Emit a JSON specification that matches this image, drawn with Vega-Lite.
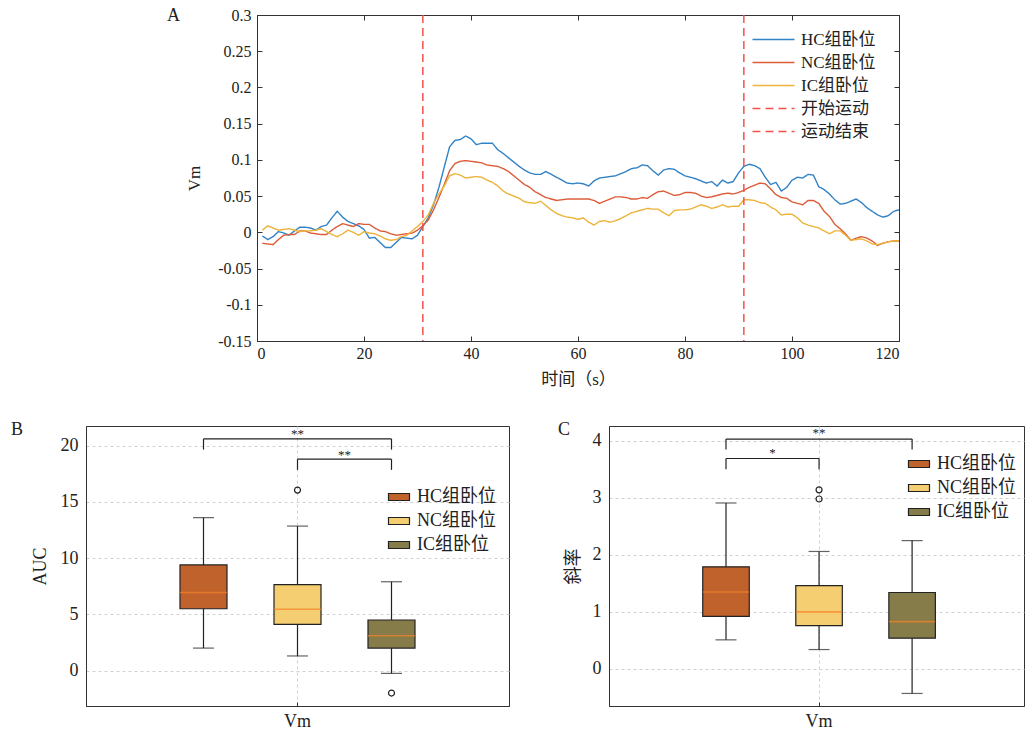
{
  "$schema": "https://vega.github.io/schema/vega-lite/v6.json",
  "padding": {"left": 10, "top": 6, "right": 0, "bottom": 0},
  "config": {
    "font": "Liberation Serif, Noto Sans CJK SC",
    "view": {"stroke": "#333", "strokeWidth": 1},
    "axis": {"labelColor": "#222", "titleColor": "#222", "titleFontWeight": "normal", "domainColor": "#333", "tickColor": "#333", "labelFontSize": 16, "titleFontSize": 18, "labelFont": "Liberation Serif, Noto Sans CJK SC", "titleFont": "Liberation Serif, Noto Sans CJK SC"},
    "legend": {"labelColor": "#222", "labelFontSize": 17, "padding": 0, "labelFont": "Liberation Serif, Noto Sans CJK SC"},
    "title": {"color": "#222", "fontWeight": "normal", "fontSize": 18, "font": "Liberation Serif"}
  },
  "spacing": 32,
  "resolve": {"scale": {"color": "independent", "x": "independent", "y": "independent", "strokeDash": "independent"}, "legend": {"color": "independent", "strokeDash": "independent"}},
  "vconcat": [
    {
      "spacing": 0,
      "resolve": {"scale": {"color": "independent", "strokeDash": "independent"}, "legend": {"color": "independent", "strokeDash": "independent"}},
      "hconcat": [
        {"width": 80, "height": 326, "data": {"values": []}, "mark": "point", "view": {"stroke": null}},
        {
          "width": 642, "height": 326,
          "title": {"text": "A", "anchor": "start", "frame": "group", "dx": -90, "dy": 32, "offset": 0, "baseline": "alphabetic"},
          "data": {"values": [
            {"t":1,"HC":-0.005,"NC":-0.015,"IC":0.003},{"t":2,"HC":-0.010,"NC":-0.016,"IC":0.009},{"t":3,"HC":-0.006,"NC":-0.017,"IC":0.006},{"t":4,"HC":0.001,"NC":-0.010,"IC":0.003},{"t":5,"HC":-0.001,"NC":-0.004,"IC":0.004},
            {"t":6,"HC":-0.004,"NC":-0.003,"IC":0.005},{"t":7,"HC":0.002,"NC":-0.003,"IC":0.003},{"t":8,"HC":0.007,"NC":0.002,"IC":0.001},{"t":9,"HC":0.007,"NC":0.002,"IC":0.002},{"t":10,"HC":0.006,"NC":-0.001,"IC":0.002},
            {"t":11,"HC":0.003,"NC":-0.002,"IC":0.003},{"t":12,"HC":0.008,"NC":-0.003,"IC":0.005},{"t":13,"HC":0.010,"NC":-0.003,"IC":0.001},{"t":14,"HC":0.020,"NC":0.003,"IC":-0.003},{"t":15,"HC":0.029,"NC":0.008,"IC":-0.006},
            {"t":16,"HC":0.021,"NC":0.012,"IC":-0.002},{"t":17,"HC":0.015,"NC":0.010,"IC":0.003},{"t":18,"HC":0.012,"NC":0.008,"IC":0.000},{"t":19,"HC":0.009,"NC":0.012,"IC":-0.004},{"t":20,"HC":0.004,"NC":0.011,"IC":0.001},
            {"t":21,"HC":-0.008,"NC":0.011,"IC":-0.001},{"t":22,"HC":-0.007,"NC":0.006,"IC":-0.002},{"t":23,"HC":-0.014,"NC":0.002,"IC":-0.005},{"t":24,"HC":-0.021,"NC":0.001,"IC":-0.009},{"t":25,"HC":-0.021,"NC":-0.002,"IC":-0.011},
            {"t":26,"HC":-0.014,"NC":-0.004,"IC":-0.010},{"t":27,"HC":-0.007,"NC":-0.003,"IC":-0.006},{"t":28,"HC":-0.008,"NC":-0.002,"IC":-0.004},{"t":29,"HC":-0.009,"NC":-0.001,"IC":0.002},{"t":30,"HC":-0.004,"NC":0.003,"IC":0.008},
            {"t":31,"HC":0.008,"NC":0.009,"IC":0.015},{"t":32,"HC":0.020,"NC":0.017,"IC":0.024},{"t":33,"HC":0.038,"NC":0.031,"IC":0.040},{"t":34,"HC":0.062,"NC":0.048,"IC":0.053},{"t":35,"HC":0.090,"NC":0.066,"IC":0.064},
            {"t":36,"HC":0.118,"NC":0.085,"IC":0.078},{"t":37,"HC":0.127,"NC":0.095,"IC":0.081},{"t":38,"HC":0.128,"NC":0.098,"IC":0.079},{"t":39,"HC":0.133,"NC":0.099,"IC":0.075},{"t":40,"HC":0.129,"NC":0.098,"IC":0.076},
            {"t":41,"HC":0.121,"NC":0.097,"IC":0.077},{"t":42,"HC":0.123,"NC":0.096,"IC":0.076},{"t":43,"HC":0.123,"NC":0.093,"IC":0.072},{"t":44,"HC":0.123,"NC":0.092,"IC":0.069},{"t":45,"HC":0.114,"NC":0.091,"IC":0.064},
            {"t":46,"HC":0.109,"NC":0.088,"IC":0.057},{"t":47,"HC":0.103,"NC":0.084,"IC":0.053},{"t":48,"HC":0.097,"NC":0.078,"IC":0.050},{"t":49,"HC":0.091,"NC":0.072,"IC":0.047},{"t":50,"HC":0.086,"NC":0.066,"IC":0.042},
            {"t":51,"HC":0.082,"NC":0.062,"IC":0.041},{"t":52,"HC":0.080,"NC":0.056,"IC":0.040},{"t":53,"HC":0.080,"NC":0.052,"IC":0.043},{"t":54,"HC":0.084,"NC":0.048,"IC":0.037},{"t":55,"HC":0.080,"NC":0.046,"IC":0.031},
            {"t":56,"HC":0.076,"NC":0.044,"IC":0.026},{"t":57,"HC":0.072,"NC":0.045,"IC":0.023},{"t":58,"HC":0.068,"NC":0.046,"IC":0.021},{"t":59,"HC":0.067,"NC":0.046,"IC":0.020},{"t":60,"HC":0.068,"NC":0.046,"IC":0.018},
            {"t":61,"HC":0.067,"NC":0.046,"IC":0.020},{"t":62,"HC":0.064,"NC":0.046,"IC":0.014},{"t":63,"HC":0.071,"NC":0.044,"IC":0.010},{"t":64,"HC":0.075,"NC":0.040,"IC":0.015},{"t":65,"HC":0.076,"NC":0.043,"IC":0.016},
            {"t":66,"HC":0.077,"NC":0.046,"IC":0.014},{"t":67,"HC":0.078,"NC":0.049,"IC":0.016},{"t":68,"HC":0.081,"NC":0.049,"IC":0.019},{"t":69,"HC":0.084,"NC":0.048,"IC":0.023},{"t":70,"HC":0.088,"NC":0.046,"IC":0.027},
            {"t":71,"HC":0.089,"NC":0.046,"IC":0.029},{"t":72,"HC":0.093,"NC":0.048,"IC":0.031},{"t":73,"HC":0.092,"NC":0.047,"IC":0.033},{"t":74,"HC":0.085,"NC":0.052,"IC":0.032},{"t":75,"HC":0.079,"NC":0.056,"IC":0.032},
            {"t":76,"HC":0.086,"NC":0.057,"IC":0.027},{"t":77,"HC":0.088,"NC":0.054,"IC":0.023},{"t":78,"HC":0.087,"NC":0.051,"IC":0.030},{"t":79,"HC":0.082,"NC":0.052,"IC":0.031},{"t":80,"HC":0.078,"NC":0.055,"IC":0.031},
            {"t":81,"HC":0.076,"NC":0.055,"IC":0.032},{"t":82,"HC":0.074,"NC":0.054,"IC":0.035},{"t":83,"HC":0.071,"NC":0.050,"IC":0.038},{"t":84,"HC":0.068,"NC":0.048,"IC":0.036},{"t":85,"HC":0.070,"NC":0.049,"IC":0.033},
            {"t":86,"HC":0.064,"NC":0.051,"IC":0.035},{"t":87,"HC":0.072,"NC":0.053,"IC":0.038},{"t":88,"HC":0.068,"NC":0.054,"IC":0.035},{"t":89,"HC":0.070,"NC":0.053,"IC":0.036},{"t":90,"HC":0.082,"NC":0.055,"IC":0.036},
            {"t":91,"HC":0.091,"NC":0.058,"IC":0.045},{"t":92,"HC":0.094,"NC":0.062,"IC":0.045},{"t":93,"HC":0.092,"NC":0.065,"IC":0.044},{"t":94,"HC":0.088,"NC":0.068,"IC":0.041},{"t":95,"HC":0.076,"NC":0.067,"IC":0.040},
            {"t":96,"HC":0.066,"NC":0.060,"IC":0.035},{"t":97,"HC":0.069,"NC":0.052,"IC":0.031},{"t":98,"HC":0.057,"NC":0.048,"IC":0.024},{"t":99,"HC":0.062,"NC":0.047,"IC":0.025},{"t":100,"HC":0.072,"NC":0.042,"IC":0.025},
            {"t":101,"HC":0.076,"NC":0.040,"IC":0.020},{"t":102,"HC":0.075,"NC":0.038,"IC":0.013},{"t":103,"HC":0.080,"NC":0.044,"IC":0.010},{"t":104,"HC":0.079,"NC":0.044,"IC":0.008},{"t":105,"HC":0.063,"NC":0.040,"IC":0.006},
            {"t":106,"HC":0.059,"NC":0.029,"IC":0.002},{"t":107,"HC":0.053,"NC":0.022,"IC":-0.002},{"t":108,"HC":0.045,"NC":0.011,"IC":0.002},{"t":109,"HC":0.039,"NC":0.005,"IC":0.002},{"t":110,"HC":0.040,"NC":-0.002,"IC":-0.004},
            {"t":111,"HC":0.043,"NC":-0.011,"IC":-0.011},{"t":112,"HC":0.046,"NC":-0.008,"IC":-0.010},{"t":113,"HC":0.041,"NC":-0.006,"IC":-0.009},{"t":114,"HC":0.034,"NC":-0.008,"IC":-0.012},{"t":115,"HC":0.029,"NC":-0.012,"IC":-0.016},
            {"t":116,"HC":0.024,"NC":-0.018,"IC":-0.017},{"t":117,"HC":0.021,"NC":-0.015,"IC":-0.015},{"t":118,"HC":0.023,"NC":-0.013,"IC":-0.013},{"t":119,"HC":0.029,"NC":-0.012,"IC":-0.012},{"t":120,"HC":0.031,"NC":-0.012,"IC":-0.012}
          ]},
          "transform": [{"fold": ["HC", "NC", "IC"], "as": ["series", "v"]}],
          "layer": [
            {
              "mark": {"type": "line", "strokeWidth": 1.4},
              "encoding": {
                "x": {"field": "t", "type": "quantitative", "scale": {"domain": [0, 120], "nice": false},
                      "axis": {"orient": "bottom", "values": [0, 20, 40, 60, 80, 100, 120], "title": "时间（s）", "tickSize": -5, "labelPadding": 9, "titlePadding": 10, "titleFontSize": 17, "grid": false}},
                "y": {"field": "v", "type": "quantitative", "scale": {"domain": [-0.15, 0.3], "nice": false, "zero": false},
                      "axis": {"orient": "left", "values": [-0.15, -0.1, -0.05, 0, 0.05, 0.1, 0.15, 0.2, 0.25, 0.3], "labelExpr": "'' + datum.value", "title": "Vm", "tickSize": -5, "labelPadding": 11, "titlePadding": 14, "titleFontSize": 17, "grid": false}},
                "color": {"field": "series", "type": "nominal",
                          "scale": {"domain": ["HC", "NC", "IC", "开始运动", "运动结束"], "range": ["#3282C6", "#DC5C38", "#EDB33A", "#F5504A", "#F5504A"]},
                          "legend": {"title": null, "orient": "none", "legendX": 505, "legendY": 13, "symbolType": "M-2,0L2,0", "symbolSize": 441, "symbolStrokeWidth": 1.5, "labelOffset": 16, "rowPadding": 3,
                                     "labelExpr": "datum.label === 'HC' ? 'HC组卧位' : datum.label === 'NC' ? 'NC组卧位' : datum.label === 'IC' ? 'IC组卧位' : datum.label"}},
                "strokeDash": {"field": "series", "type": "nominal",
                               "scale": {"domain": ["HC", "NC", "IC", "开始运动", "运动结束"], "range": [[1, 0], [1, 0], [1, 0], [8, 5], [8, 5]]},
                               "legend": {"title": null, "orient": "none", "legendX": 505, "legendY": 13, "symbolType": "M-2,0L2,0", "symbolSize": 441, "symbolStrokeWidth": 1.5, "labelOffset": 16, "rowPadding": 3,
                                          "labelExpr": "datum.label === 'HC' ? 'HC组卧位' : datum.label === 'NC' ? 'NC组卧位' : datum.label === 'IC' ? 'IC组卧位' : datum.label"}}
              }
            },
            {
              "data": {"values": [{"t": 31, "series": "开始运动"}, {"t": 91, "series": "运动结束"}]},
              "mark": {"type": "rule", "strokeWidth": 1.5},
              "encoding": {
                "x": {"field": "t", "type": "quantitative", "axis": {"orient": "top", "labels": false, "title": null, "tickSize": -5, "values": [0, 20, 40, 60, 80, 100, 120], "grid": false}},
                "color": {"field": "series", "type": "nominal"},
                "strokeDash": {"field": "series", "type": "nominal"}
              }
            },
            {
              "mark": {"type": "line", "opacity": 0},
              "encoding": {
                "x": {"field": "t", "type": "quantitative", "axis": null},
                "y": {"field": "v", "type": "quantitative", "axis": {"orient": "right", "labels": false, "title": null, "tickSize": -5, "values": [-0.15, -0.1, -0.05, 0, 0.05, 0.1, 0.15, 0.2, 0.25, 0.3], "grid": false}}
              }
            }
          ]
        }
      ]
    },
    {
      "spacing": 47,
      "resolve": {"scale": {"color": "independent", "x": "independent", "y": "independent"}, "legend": {"color": "independent"}},
      "hconcat": [
        {
          "width": 423, "height": 280,
          "title": {"text": "B", "anchor": "start", "frame": "group", "dx": -75, "dy": 27, "offset": 0, "baseline": "alphabetic"},
          "data": {"values": [
            {"group": "HC组卧位", "lower": 2.0, "q1": 5.5, "median": 6.95, "q3": 9.4, "upper": 13.6},
            {"group": "NC组卧位", "lower": 1.3, "q1": 4.1, "median": 5.45, "q3": 7.65, "upper": 12.85},
            {"group": "IC组卧位", "lower": -0.25, "q1": 2.0, "median": 3.1, "q3": 4.5, "upper": 7.9}
          ]},
          "layer": [
            {
              "mark": {"type": "rule", "color": "#222", "strokeWidth": 1.2},
              "encoding": {
                "x": {"field": "group", "type": "nominal", "scale": {"domain": ["HC组卧位", "NC组卧位", "IC组卧位"], "paddingInner": 0.5, "paddingOuter": 1},
                      "axis": {"values": ["NC组卧位"], "labelExpr": "'Vm'", "title": null, "tickSize": -4, "labelPadding": 10, "labelFontSize": 18, "labelAngle": 0, "grid": true, "gridDash": [3, 3], "gridColor": "#d0d0d0", "bandPosition": 0.5}},
                "y": {"field": "lower", "type": "quantitative", "scale": {"domain": [-3.15, 21.75], "nice": false, "zero": false},
                      "axis": {"values": [0, 5, 10, 15, 20], "title": "AUC", "ticks": false, "labelPadding": 8, "labelFontSize": 18, "titleFontSize": 18, "titlePadding": 11, "grid": true, "gridDash": [3, 3], "gridColor": "#d0d0d0"}},
                "y2": {"field": "upper"}
              }
            },
            {"mark": {"type": "tick", "color": "#222", "size": 21, "thickness": 1.2}, "encoding": {"x": {"field": "group", "type": "nominal"}, "y": {"field": "lower", "type": "quantitative"}}},
            {"mark": {"type": "tick", "color": "#222", "size": 21, "thickness": 1.2}, "encoding": {"x": {"field": "group", "type": "nominal"}, "y": {"field": "upper", "type": "quantitative"}}},
            {
              "mark": {"type": "bar", "stroke": "#222", "strokeWidth": 1.2},
              "encoding": {
                "x": {"field": "group", "type": "nominal"},
                "y": {"field": "q1", "type": "quantitative"},
                "y2": {"field": "q3"},
                "color": {"field": "group", "type": "nominal", "scale": {"domain": ["HC组卧位", "NC组卧位", "IC组卧位"], "range": ["#C0622C", "#F5CE72", "#867C4A"]},
                          "legend": {"title": null, "orient": "none", "legendX": 304, "legendY": 62, "symbolType": "M-1.5,-0.5L1.5,-0.5L1.5,0.5L-1.5,0.5Z", "symbolSize": 196, "symbolStrokeColor": "#222", "symbolStrokeWidth": 1.2, "symbolOpacity": 1, "labelOffset": 9, "rowPadding": 6, "labelFontSize": 18}}
              }
            },
            {"mark": {"type": "tick", "color": "#F5822A", "size": 47, "thickness": 1.6}, "encoding": {"x": {"field": "group", "type": "nominal"}, "y": {"field": "median", "type": "quantitative"}}},
            {
              "data": {"values": [{"group": "NC组卧位", "value": 16.05}, {"group": "IC组卧位", "value": -2.0}]},
              "mark": {"type": "point", "filled": false, "color": "#222", "size": 36, "strokeWidth": 1.2, "opacity": 1},
              "encoding": {"x": {"field": "group", "type": "nominal"}, "y": {"field": "value", "type": "quantitative"}}
            },
            {
              "data": {"values": [{"from": "HC组卧位", "to": "IC组卧位", "top": 20.6, "low": 19.65}, {"from": "NC组卧位", "to": "IC组卧位", "top": 18.8, "low": 17.85}]},
              "layer": [
                {"mark": {"type": "rule", "color": "#222", "strokeWidth": 1.2}, "encoding": {"x": {"field": "from", "type": "nominal", "bandPosition": 0.5}, "x2": {"field": "to", "bandPosition": 0.5}, "y": {"field": "top", "type": "quantitative"}}},
                {"mark": {"type": "rule", "color": "#222", "strokeWidth": 1.2}, "encoding": {"x": {"field": "from", "type": "nominal", "bandPosition": 0.5}, "y": {"field": "low", "type": "quantitative"}, "y2": {"field": "top"}}},
                {"mark": {"type": "rule", "color": "#222", "strokeWidth": 1.2}, "encoding": {"x": {"field": "to", "type": "nominal", "bandPosition": 0.5}, "y": {"field": "low", "type": "quantitative"}, "y2": {"field": "top"}}}
              ]
            },
            {
              "data": {"values": [{"group": "NC组卧位", "y": 21.0, "label": "**"}]},
              "mark": {"type": "text", "fontSize": 13, "baseline": "middle", "color": "#222"},
              "encoding": {"x": {"field": "group", "type": "nominal", "bandPosition": 0.5}, "y": {"field": "y", "type": "quantitative"}, "text": {"field": "label"}}
            },
            {
              "data": {"values": [{"group": "NC组卧位", "y": 19.2, "label": "**"}]},
              "mark": {"type": "text", "fontSize": 13, "baseline": "middle", "color": "#222"},
              "encoding": {"x": {"field": "group", "type": "nominal", "bandPosition": 1.5}, "y": {"field": "y", "type": "quantitative"}, "text": {"field": "label"}}
            }
          ]
        },
        {
          "width": 415, "height": 280,
          "title": {"text": "C", "anchor": "start", "frame": "group", "dx": -51, "dy": 27, "offset": 0, "baseline": "alphabetic"},
          "data": {"values": [
            {"group": "HC组卧位", "lower": 0.51, "q1": 0.92, "median": 1.35, "q3": 1.79, "upper": 2.91},
            {"group": "NC组卧位", "lower": 0.34, "q1": 0.76, "median": 1.0, "q3": 1.46, "upper": 2.06},
            {"group": "IC组卧位", "lower": -0.43, "q1": 0.54, "median": 0.83, "q3": 1.34, "upper": 2.25}
          ]},
          "layer": [
            {
              "mark": {"type": "rule", "color": "#222", "strokeWidth": 1.2},
              "encoding": {
                "x": {"field": "group", "type": "nominal", "scale": {"domain": ["HC组卧位", "NC组卧位", "IC组卧位"], "paddingInner": 0.5, "paddingOuter": 0.98, "align": 0.514},
                      "axis": {"values": ["NC组卧位"], "labelExpr": "'Vm'", "title": null, "tickSize": -4, "labelPadding": 10, "labelFontSize": 18, "labelAngle": 0, "grid": true, "gridDash": [3, 3], "gridColor": "#d0d0d0", "bandPosition": 0.5}},
                "y": {"field": "lower", "type": "quantitative", "scale": {"domain": [-0.65, 4.26], "nice": false, "zero": false},
                      "axis": {"values": [0, 1, 2, 3, 4], "labelExpr": "'' + datum.value", "title": "斜率", "ticks": false, "labelPadding": 8, "labelFontSize": 18, "titleFontSize": 18, "titlePadding": 10, "grid": true, "gridDash": [3, 3], "gridColor": "#d0d0d0"}},
                "y2": {"field": "upper"}
              }
            },
            {"mark": {"type": "tick", "color": "#222", "size": 21, "thickness": 1.2}, "encoding": {"x": {"field": "group", "type": "nominal"}, "y": {"field": "lower", "type": "quantitative"}}},
            {"mark": {"type": "tick", "color": "#222", "size": 21, "thickness": 1.2}, "encoding": {"x": {"field": "group", "type": "nominal"}, "y": {"field": "upper", "type": "quantitative"}}},
            {
              "mark": {"type": "bar", "stroke": "#222", "strokeWidth": 1.2},
              "encoding": {
                "x": {"field": "group", "type": "nominal"},
                "y": {"field": "q1", "type": "quantitative"},
                "y2": {"field": "q3"},
                "color": {"field": "group", "type": "nominal", "scale": {"domain": ["HC组卧位", "NC组卧位", "IC组卧位"], "range": ["#C0622C", "#F5CE72", "#867C4A"]},
                          "legend": {"title": null, "orient": "none", "legendX": 301, "legendY": 29, "symbolType": "M-1.5,-0.5L1.5,-0.5L1.5,0.5L-1.5,0.5Z", "symbolSize": 196, "symbolStrokeColor": "#222", "symbolStrokeWidth": 1.2, "symbolOpacity": 1, "labelOffset": 9, "rowPadding": 6, "labelFontSize": 18}}
              }
            },
            {"mark": {"type": "tick", "color": "#F5822A", "size": 46, "thickness": 1.6}, "encoding": {"x": {"field": "group", "type": "nominal"}, "y": {"field": "median", "type": "quantitative"}}},
            {
              "data": {"values": [{"group": "NC组卧位", "value": 3.14}, {"group": "NC组卧位", "value": 2.98}]},
              "mark": {"type": "point", "filled": false, "color": "#222", "size": 36, "strokeWidth": 1.2, "opacity": 1},
              "encoding": {"x": {"field": "group", "type": "nominal"}, "y": {"field": "value", "type": "quantitative"}}
            },
            {
              "data": {"values": [{"from": "HC组卧位", "to": "IC组卧位", "top": 4.03, "low": 3.85}, {"from": "HC组卧位", "to": "NC组卧位", "top": 3.69, "low": 3.5}]},
              "layer": [
                {"mark": {"type": "rule", "color": "#222", "strokeWidth": 1.2}, "encoding": {"x": {"field": "from", "type": "nominal", "bandPosition": 0.5}, "x2": {"field": "to", "bandPosition": 0.5}, "y": {"field": "top", "type": "quantitative"}}},
                {"mark": {"type": "rule", "color": "#222", "strokeWidth": 1.2}, "encoding": {"x": {"field": "from", "type": "nominal", "bandPosition": 0.5}, "y": {"field": "low", "type": "quantitative"}, "y2": {"field": "top"}}},
                {"mark": {"type": "rule", "color": "#222", "strokeWidth": 1.2}, "encoding": {"x": {"field": "to", "type": "nominal", "bandPosition": 0.5}, "y": {"field": "low", "type": "quantitative"}, "y2": {"field": "top"}}}
              ]
            },
            {
              "data": {"values": [{"group": "NC组卧位", "y": 4.13, "label": "**"}]},
              "mark": {"type": "text", "fontSize": 13, "baseline": "middle", "color": "#222"},
              "encoding": {"x": {"field": "group", "type": "nominal", "bandPosition": 0.5}, "y": {"field": "y", "type": "quantitative"}, "text": {"field": "label"}}
            },
            {
              "data": {"values": [{"group": "HC组卧位", "y": 3.79, "label": "*"}]},
              "mark": {"type": "text", "fontSize": 13, "baseline": "middle", "color": "#222"},
              "encoding": {"x": {"field": "group", "type": "nominal", "bandPosition": 1.5}, "y": {"field": "y", "type": "quantitative"}, "text": {"field": "label"}}
            }
          ]
        }
      ]
    }
  ]
}
